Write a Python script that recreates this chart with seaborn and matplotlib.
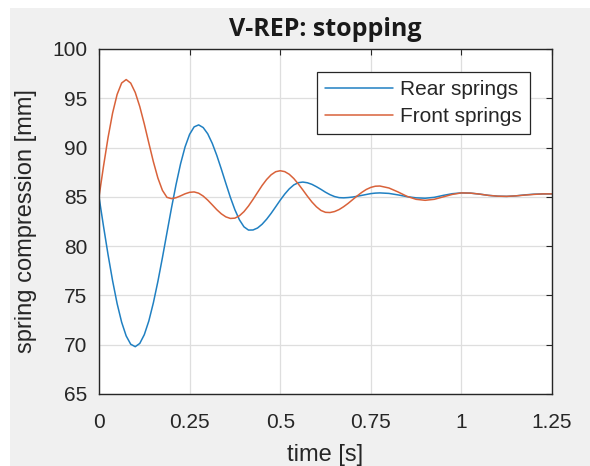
import numpy as np
import pandas as pd
import matplotlib
matplotlib.use("Agg")
import matplotlib.pyplot as plt
import seaborn as sns
from matplotlib.patches import Rectangle

# sample times [s]
time = [0, 0.0125, 0.025, 0.0375, 0.05, 0.0625, 0.075, 0.0875, 0.1, 0.1125,
        0.125, 0.1375, 0.15, 0.1625, 0.175, 0.1875, 0.2, 0.2125, 0.225, 0.2375,
        0.25, 0.2625, 0.275, 0.2875, 0.3, 0.3125, 0.325, 0.3375, 0.35, 0.3625,
        0.375, 0.3875, 0.4, 0.4125, 0.425, 0.4375, 0.45, 0.4625, 0.475, 0.4875,
        0.5, 0.5125, 0.525, 0.5375, 0.55, 0.5625, 0.575, 0.5875, 0.6, 0.6125,
        0.625, 0.6375, 0.65, 0.6625, 0.675, 0.6875, 0.7, 0.7125, 0.725, 0.7375,
        0.75, 0.7625, 0.775, 0.8, 0.825, 0.85, 0.875, 0.9, 0.925, 0.95,
        0.975, 1.0, 1.025, 1.05, 1.075, 1.1, 1.125, 1.15, 1.175, 1.2,
        1.225, 1.25]

# spring compression [mm]
rear = [85.0, 82.0, 79.13, 76.49, 74.17, 72.28, 70.89, 70.05, 69.8, 70.13,
        71.02, 72.41, 74.25, 76.42, 78.83, 81.36, 83.87, 86.23, 88.34, 90.07,
        91.34, 92.10, 92.3, 92.03, 91.40, 90.43, 89.21, 87.82, 86.37, 84.95,
        83.69, 82.67, 81.96, 81.63, 81.64, 81.84, 82.22, 82.73, 83.33, 83.99,
        84.66, 85.28, 85.81, 86.21, 86.44, 86.5, 86.43, 86.27, 86.03, 85.76,
        85.47, 85.22, 85.03, 84.92, 84.9, 84.93, 84.98, 85.06, 85.15, 85.24,
        85.33, 85.38, 85.4, 85.35, 85.2, 85.02, 84.9, 84.86, 84.95, 85.15,
        85.32, 85.4, 85.38, 85.28, 85.15, 85.07, 85.05, 85.1, 85.2, 85.27,
        85.3, 85.3]

front = [85.0, 88.12, 91.02, 93.50, 95.39, 96.55, 96.9, 96.54, 95.59, 94.16,
         92.39, 90.46, 88.57, 86.91, 85.66, 84.95, 84.82, 84.91, 85.10, 85.31,
         85.46, 85.5, 85.37, 85.08, 84.67, 84.19, 83.70, 83.28, 82.97, 82.81,
         82.84, 83.08, 83.50, 84.07, 84.74, 85.45, 86.15, 86.76, 87.24, 87.55,
         87.65, 87.56, 87.29, 86.86, 86.31, 85.70, 85.07, 84.48, 83.99, 83.62,
         83.43, 83.41, 83.51, 83.71, 84.00, 84.34, 84.72, 85.10, 85.45, 85.75,
         85.96, 86.08, 86.1, 85.9, 85.5, 85.05, 84.75, 84.65, 84.75, 85.0,
         85.25, 85.4, 85.38, 85.28, 85.15, 85.07, 85.05, 85.1, 85.18, 85.25,
         85.3, 85.3]

xticks = [0, 0.25, 0.5, 0.75, 1, 1.25]
xticklabels = ["0", "0.25", "0.5", "0.75", "1", "1.25"]
yticks = [65, 70, 75, 80, 85, 90, 95, 100]

df = pd.DataFrame({
    "time": time * 2,
    "value": rear + front,
    "series": ["Rear springs"] * len(time) + ["Front springs"] * len(time),
})

sns.set_style("whitegrid")
plt.rcParams["font.family"] = ["Liberation Sans", "DejaVu Sans"]

fig = plt.figure(figsize=(5.9, 4.66), dpi=100, facecolor="white")
# grey window background, thin white margin at left/top
fig.patches.append(Rectangle((10 / 590, 0), 1, 1 - 8 / 466, transform=fig.transFigure,
                             facecolor="#f0f0f0", edgecolor="none", zorder=-10))
ax = fig.add_axes([99 / 590, 1 - 394 / 466, 453 / 590, 345 / 466])

sns.lineplot(data=df, x="time", y="value", hue="series",
             palette={"Rear springs": "#2080c2", "Front springs": "#d9623a"},
             linewidth=1.1, ax=ax, sort=False)

ax.set_xlim(0, 1.25)
ax.set_ylim(65, 100)
ax.set_xticks(xticks)
ax.set_xticklabels(xticklabels)
ax.set_yticks(yticks)
ax.grid(True, color="#dedede", linewidth=0.9)
for s in ax.spines.values():
    s.set_color("#262626")
    s.set_linewidth(1.0)
ax.tick_params(direction="in", length=4, width=0.8, top=True, right=True,
               labelsize=15, colors="#262626")
ax.tick_params(axis="x", pad=14)
ax.tick_params(axis="y", pad=8.5)

ax.set_xlabel("time [s]", fontsize=17, color="#262626", labelpad=8)
ax.set_ylabel("spring compression [mm]", fontsize=17, color="#262626", labelpad=11)
ax.set_title("V-REP: stopping", fontsize=18, fontweight="bold",
             family="Open Sans", color="#1a1a1a", pad=9)

leg = ax.legend(loc="upper right", bbox_to_anchor=(0.951, 0.933), borderaxespad=0,
                fontsize=15, frameon=True, fancybox=False, framealpha=1,
                edgecolor="#262626", handlelength=3.3, borderpad=0.38,
                labelspacing=0.4, handletextpad=0.33)
leg.get_frame().set_linewidth(0.9)
for t in leg.get_texts():
    t.set_color("#262626")

fig.savefig("out.png", dpi=100, facecolor=fig.get_facecolor())
